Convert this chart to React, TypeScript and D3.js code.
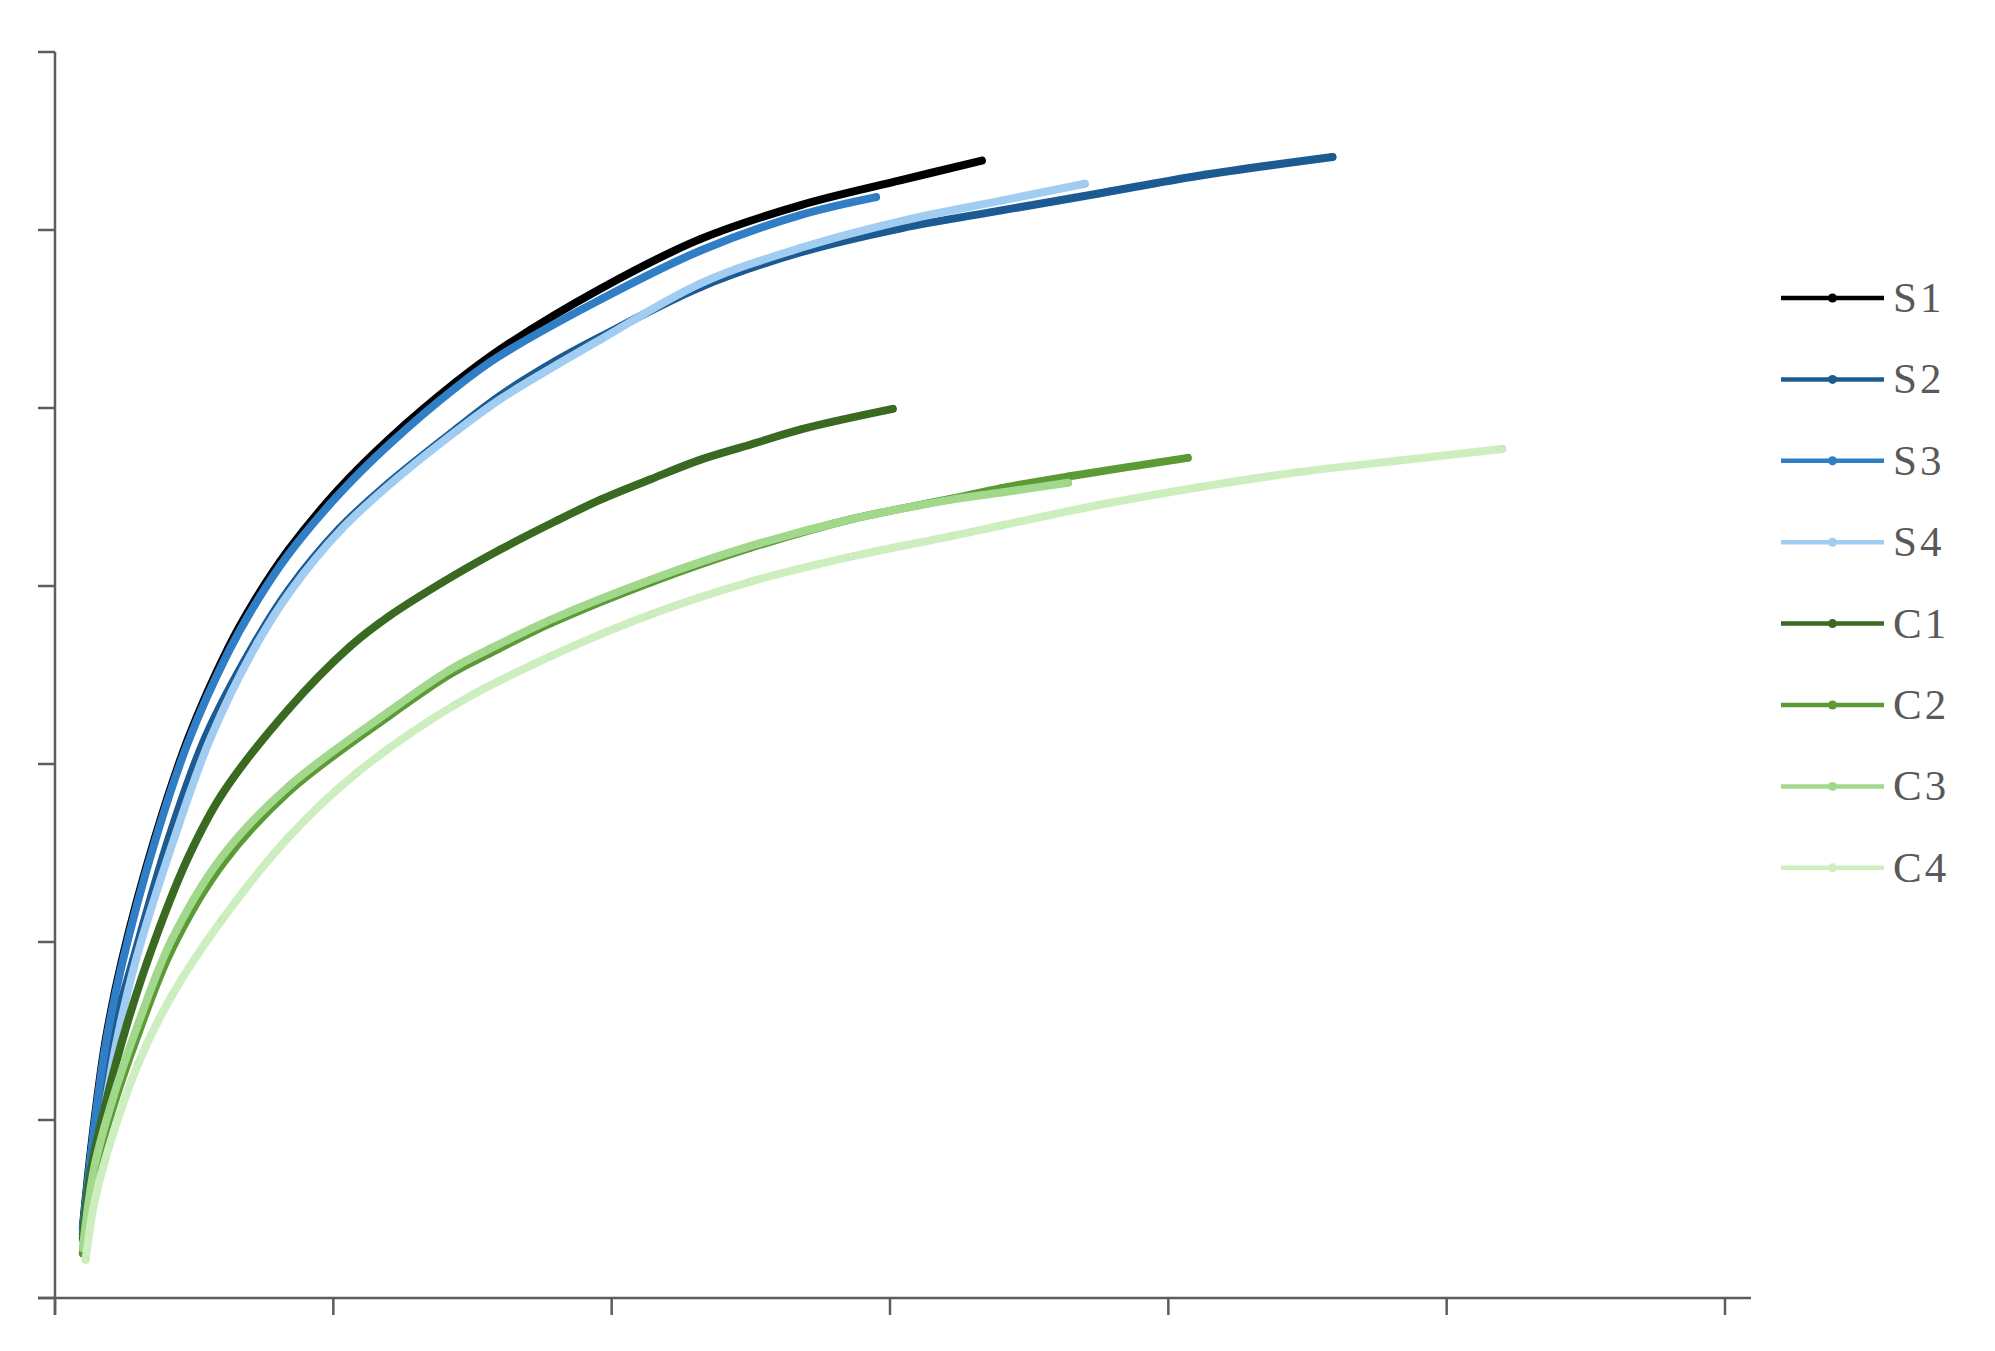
import React from "react";
import * as d3 from "d3";

// ---- data (x: sequences sampled, y: observed OTUs) ----
const seriesNames = ["S1", "S2", "S3", "S4", "C1", "C2", "C3", "C4"];
const seriesColors = ["#000000", "#1c5a92", "#2f7ec6", "#a2cdf2", "#3a6a22", "#5b9a35", "#a2d88b", "#cdeebf"];

const s1X = [1000, 1300, 1800, 2400, 3600, 4800, 6200, 7200, 8400, 10200, 12000, 14400, 16000, 19600, 23200, 26800, 30400, 33300];
const s1Y = [79, 169, 286, 379, 518, 630, 729, 785, 841, 909, 965, 1029, 1066, 1134, 1190, 1228, 1256, 1278];

const s2X = [1000, 1300, 1700, 2000, 2800, 4100, 5400, 7100, 8400, 10200, 12000, 14400, 16000, 18000, 19600, 23200, 26800, 30400, 34000, 37500, 41100, 45900];
const s2Y = [72, 155, 216, 286, 379, 518, 630, 732, 796, 864, 916, 976, 1014, 1053, 1080, 1136, 1175, 1202, 1222, 1241, 1261, 1282];

const s3X = [1000, 1300, 1800, 2400, 3600, 4800, 6200, 7200, 8400, 10200, 12000, 14400, 16000, 19600, 23200, 26800, 29500];
const s3Y = [76, 164, 281, 374, 514, 626, 724, 780, 836, 903, 959, 1023, 1059, 1122, 1177, 1217, 1237];

const s4X = [1000, 1400, 1800, 2200, 2900, 4300, 5600, 7200, 8500, 10300, 12100, 14500, 16000, 18000, 19600, 23200, 26800, 30400, 34000, 37000];
const s4Y = [65, 150, 216, 286, 379, 518, 630, 732, 796, 864, 916, 976, 1010, 1048, 1077, 1140, 1180, 1210, 1233, 1252];

const c1X = [1000, 1300, 1800, 2600, 3600, 4800, 6000, 8400, 10600, 12000, 14400, 16000, 18000, 19600, 21400, 23200, 25000, 26800, 30100];
const c1Y = [67, 145, 216, 309, 403, 496, 566, 662, 732, 766, 813, 841, 873, 897, 920, 942, 959, 976, 999];

const c2X = [1000, 1400, 2000, 3000, 4200, 6000, 8400, 12000, 14200, 15600, 17800, 21400, 25000, 28600, 32200, 34000, 36400, 40700];
const c2Y = [50, 137, 206, 298, 392, 487, 569, 654, 701, 724, 758, 804, 843, 875, 898, 910, 923, 944];

const c3X = [1000, 1400, 2000, 3000, 4200, 6000, 8400, 12000, 14200, 15600, 17800, 21400, 25000, 28600, 32200, 34000, 36400];
const c3Y = [56, 145, 216, 309, 403, 496, 575, 659, 706, 729, 762, 807, 845, 875, 897, 905, 916];

const c4X = [1100, 1400, 1800, 3000, 4200, 6000, 8400, 10800, 14400, 17800, 21400, 25000, 28600, 32200, 34000, 37500, 41100, 44700, 48300, 52000];
const c4Y = [43, 105, 155, 264, 340, 425, 518, 589, 667, 721, 768, 805, 833, 856, 868, 891, 911, 928, 941, 954];

const seriesX = [s1X, s2X, s3X, s4X, c1X, c2X, c3X, c4X];
const seriesY = [s1Y, s2Y, s3Y, s4Y, c1Y, c2Y, c3Y, c4Y];

const xTicks = [0, 10000, 20000, 30000, 40000, 50000, 60000];
const yTicks = [0, 200, 400, 600, 800, 1000, 1200, 1400];

export default function App() {
  const W = 1995;
  const H = 1351;
  const left = 55;
  const right = 1725;
  const top = 52;
  const bottom = 1298;
  const tick = 17;
  const axisColor = "#5c5c5c";

  const x = d3.scaleLinear().domain([0, 60000]).range([left, right]);
  const y = d3.scaleLinear().domain([0, 1400]).range([bottom, top]);

  const line = d3
    .line<[number, number]>()
    .x((d) => x(d[0]))
    .y((d) => y(d[1]))
    .curve(d3.curveCatmullRom.alpha(0.5));

  const legendX0 = 1781;
  const legendX1 = 1884;
  const legendY0 = 298;
  const legendStep = 81.4;

  return (
    <svg
      width={W}
      height={H}
      style={{ position: "absolute", left: 0, top: 0, display: "block", background: "#ffffff" }}
    >
      <rect x={0} y={0} width={W} height={H} fill="#ffffff" />
      {/* series */}
      {seriesNames.map((name, i) => {
        const pts: [number, number][] = seriesX[i].map((v, j) => [v, seriesY[i][j]]);
        const col = seriesColors[i];
        const markStroke = d3.color(col)!.darker(0.15).toString();
        return (
          <g key={name}>
            <path
              d={line(pts) || ""}
              fill="none"
              stroke={col}
              strokeWidth={8}
              strokeLinecap="round"
              strokeLinejoin="round"
            />
            {pts.map((p, j) => (
              <circle key={j} cx={x(p[0])} cy={y(p[1])} r={3.4} fill={col} stroke={markStroke} strokeWidth={0.6} />
            ))}
          </g>
        );
      })}
      {/* axes */}
      <g stroke={axisColor} strokeWidth={2.5} fill="none">
        <line x1={left} y1={top} x2={left} y2={bottom + tick} />
        <line x1={left - tick} y1={bottom} x2={right + 26} y2={bottom} />
        {yTicks.map((t) => (
          <line key={"y" + t} x1={left - tick} y1={y(t)} x2={left} y2={y(t)} />
        ))}
        {xTicks.map((t) => (
          <line key={"x" + t} x1={x(t)} y1={bottom} x2={x(t)} y2={bottom + tick} />
        ))}
      </g>
      {/* legend */}
      {seriesNames.map((name, i) => {
        const ly = legendY0 + i * legendStep;
        const col = seriesColors[i];
        return (
          <g key={"lg" + name}>
            <line x1={legendX0} y1={ly} x2={legendX1} y2={ly} stroke={col} strokeWidth={4.5} />
            <circle cx={(legendX0 + legendX1) / 2} cy={ly} r={4.5} fill={col} />
            <text
              x={1893}
              y={ly + 14}
              fontFamily="'Liberation Serif', 'Times New Roman', serif"
              fontSize={43}
              letterSpacing={3}
              fill="#595959"
            >
              {name}
            </text>
          </g>
        );
      })}
    </svg>
  );
}
